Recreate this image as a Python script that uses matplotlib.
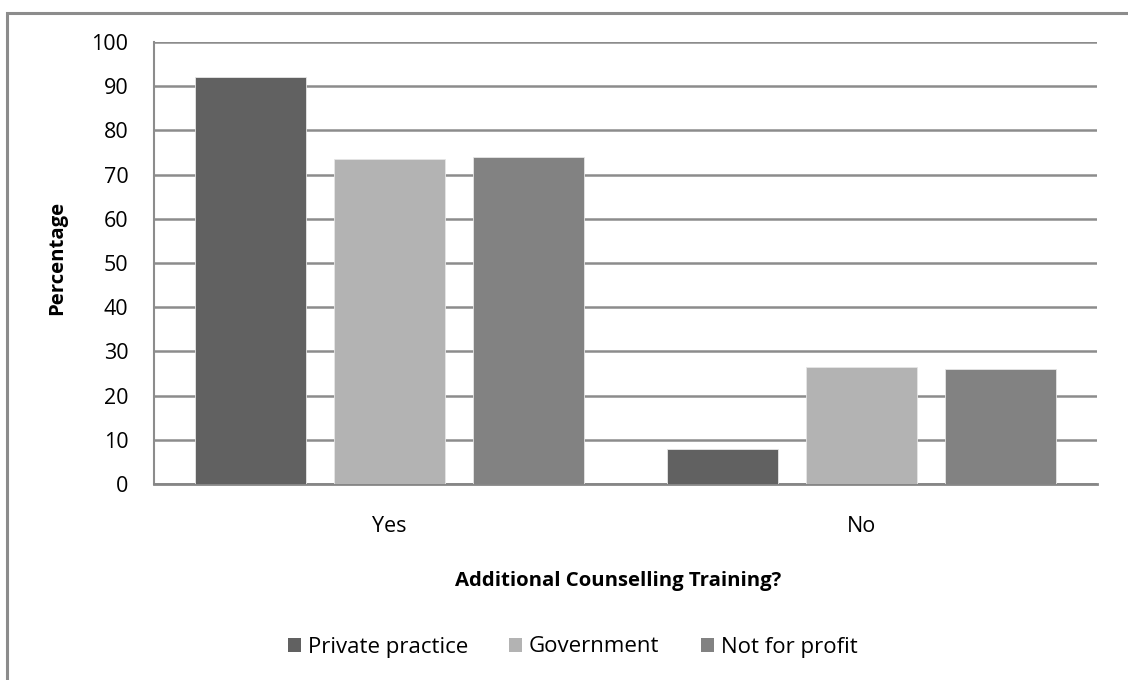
import matplotlib
matplotlib.use("Agg")
import matplotlib.pyplot as plt
import numpy as np
from matplotlib.patches import Rectangle, Patch

categories = ["Yes", "No"]
series_names = ["Private practice", "Government", "Not for profit"]
private_practice = [92, 8]
government = [73.5, 26.5]
not_for_profit = [74, 26]
series_values = [private_practice, government, not_for_profit]
colors = ["#616161", "#b3b3b3", "#828282"]
yticks = list(range(0, 101, 10))

plt.rcParams['font.family'] = ['Open Sans', 'DejaVu Sans']

fig = plt.figure(figsize=(11.28, 6.8), dpi=100)
ax = fig.add_axes([154/1128, 1-484/680, (1097-154)/1128, (484-42)/680])

x = np.arange(len(categories))
width = 0.235
step = 0.295
for i, (name, vals, c) in enumerate(zip(series_names, series_values, colors)):
    ax.bar(x + (i-1)*step, vals, width, color=c, label=name, zorder=3,
           edgecolor='#e6e6e6', linewidth=0.6)

ax.set_xlim(-0.5, 1.5)
ax.set_ylim(0, 100)
ax.set_yticks(yticks)
ax.set_xticks(x)
ax.set_xticklabels(categories)
ax.yaxis.grid(True, color='#8c8c8c', linewidth=1.8, zorder=0)
ax.set_axisbelow(True)
for s in ['top', 'right']:
    ax.spines[s].set_visible(False)
ax.spines['left'].set_color('#8c8c8c')
ax.spines['left'].set_linewidth(1.5)
ax.spines['bottom'].set_color('#868686')
ax.spines['bottom'].set_linewidth(2)
ax.tick_params(axis='y', length=0, pad=18.5, labelsize=15.5)
ax.tick_params(axis='x', length=0, pad=23, labelsize=15.5)

fig.text(57.5/1128, 1-258/680, "Percentage", fontsize=14.7, fontweight='bold',
         rotation=90, ha='center', va='center')
fig.text(618/1128, 1-581/680, "Additional Counselling Training?", fontsize=14.7,
         fontweight='bold', ha='center', va='center')

handles = [Patch(facecolor=c, edgecolor='none') for c in colors]
fig.legend(handles, series_names, loc='center', bbox_to_anchor=(572.5/1128, 1-647/680),
           ncol=3, frameon=False, fontsize=16, handlelength=0.6, handleheight=0.6,
           handletextpad=0.3, columnspacing=1.85)

fig.patches.append(Rectangle((7/1128, -0.05), 1.2, 1-13/680+0.05, transform=fig.transFigure,
                             fill=False, edgecolor='#8c8c8c', linewidth=2.2))

fig.savefig("out.png", dpi=100, facecolor='white')
